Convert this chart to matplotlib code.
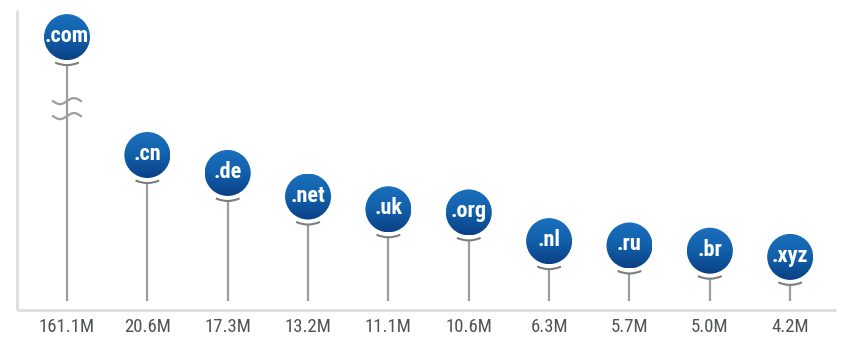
import numpy as np
import matplotlib
matplotlib.use("Agg")
import matplotlib.pyplot as plt
from matplotlib.patches import Circle, Arc
from matplotlib.transforms import ScaledTranslation
from matplotlib.colors import LinearSegmentedColormap
from matplotlib import font_manager

# ---- data ----
tlds = [".com", ".cn", ".de", ".net", ".uk", ".org", ".nl", ".ru", ".br", ".xyz"]
values = [161.1, 20.6, 17.3, 13.2, 11.1, 10.6, 6.3, 5.7, 5.0, 4.2]
labels = ["161.1M", "20.6M", "17.3M", "13.2M", "11.1M", "10.6M", "6.3M", "5.7M", "5.0M", "4.2M"]

# value above which the scale is broken
BREAK_CAP = 45.3
POW = 0.75

def fwd(v):
    v = np.asarray(v, dtype=float)
    return np.sign(v) * np.abs(v) ** POW

def inv(t):
    t = np.asarray(t, dtype=float)
    return np.sign(t) * np.abs(t) ** (1 / POW)

# pick a condensed face if one is installed
installed = {f.name for f in font_manager.fontManager.ttflist}
condensed = [n for n in ("Roboto Condensed", "Liberation Sans Narrow", "Open Sans Condensed",
                         "DejaVu Sans Condensed") if n in installed]
if condensed:
    FONT = [condensed[0], "DejaVu Sans"]
    BUB_FS, LAB_FS = 16, 13.5
else:
    FONT = ["Roboto", "DejaVu Sans"]
    BUB_FS, LAB_FS = 13, 12

W, H = 856, 359
DPI = 100
fig = plt.figure(figsize=(W / DPI, H / DPI), dpi=DPI)
ax_left, ax_right, ax_top, ax_bot = 17, 836, 10, 310
ax = fig.add_axes([ax_left / W, 1 - ax_bot / H, (ax_right - ax_left) / W, (ax_bot - ax_top) / H])
ax.set_yscale("function", functions=(fwd, inv))

xlim = (-0.622, 9.57)
ylim = (-0.478, 51.6)
ax.set_xlim(*xlim)
ax.set_ylim(*ylim)
ax.axis("off")

px_per_t = (ax_bot - ax_top) / (fwd(ylim[1]) - fwd(ylim[0]))

R = 23.0  # bubble radius in px
ARC_R = R + 5

# axis lines
ax.plot([xlim[0], xlim[0]], [ylim[0], ylim[1]], color="#dedede", lw=2, clip_on=False, solid_capstyle="butt")
ax.plot([xlim[0], xlim[1]], [ylim[0], ylim[0]], color="#dedede", lw=2, clip_on=False, solid_capstyle="butt")

stem_col = "#9a9e9e"
arc_col = "#7a7f7f"
grad = np.linspace(0, 1, 64).reshape(-1, 1)
cmap = LinearSegmentedColormap.from_list("b", ["#0a4186", "#1260aa", "#1b6fbd"])
r_in = R / DPI

for i, (t, v) in enumerate(zip(tlds, values)):
    yv = min(v, BREAK_CAP)
    # stem from baseline up to the arc
    top = float(inv(fwd(yv) - ARC_R / px_per_t))
    ax.plot([i, i], [0, top], color=stem_col, lw=1.6, zorder=1, solid_capstyle="butt")
    off = fig.dpi_scale_trans + ScaledTranslation(i, yv, ax.transData)
    # smile arc
    arc = Arc((0, 0), 2 * ARC_R / DPI, 2 * ARC_R / DPI, theta1=245, theta2=295,
              color=arc_col, lw=1.5, zorder=2, transform=off)
    ax.add_patch(arc)
    # bubble with vertical gradient
    circ = Circle((0, 0), r_in, facecolor="none", edgecolor="none", transform=off, zorder=3)
    ax.add_patch(circ)
    im = ax.imshow(grad, cmap=cmap, extent=[-r_in, r_in, -r_in, r_in], origin="lower",
                   aspect="auto", zorder=3, interpolation="bilinear", transform=off)
    im.set_clip_path(circ)
    ax.text(0, 0.01, t, color="white", ha="center", va="center", fontsize=BUB_FS,
            fontweight="bold", family=FONT, zorder=4, transform=off)
    # value label
    ax.text(i, ylim[0], labels[i], color="#4f5454", ha="center", va="center",
            fontsize=LAB_FS, family=FONT, clip_on=False,
            transform=ax.transData + ScaledTranslation(0, -17 / DPI, fig.dpi_scale_trans))

# break marks on the first stem (offsets in px from the capped bubble centre)
off0 = fig.dpi_scale_trans + ScaledTranslation(0, BREAK_CAP, ax.transData)
xs = np.linspace(-14, 14, 60)
for dy in (-64, -79):
    ys = dy - 3.0 * np.sin((xs + 14) / 28 * 2 * np.pi)
    ax.plot(xs / DPI, ys / DPI, color=stem_col, lw=1.6, zorder=2, transform=off0)

ax.set_xlim(*xlim)
ax.set_ylim(*ylim)
fig.savefig("out.png", dpi=DPI, facecolor="white")
